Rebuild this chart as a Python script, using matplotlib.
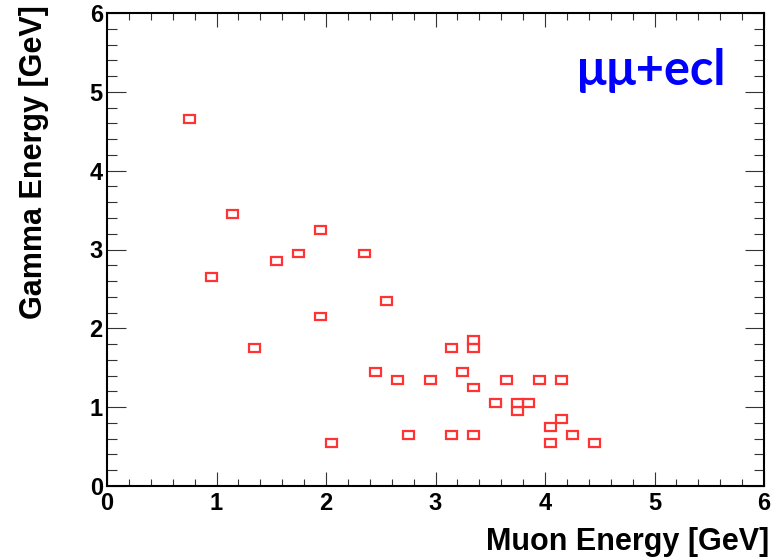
import matplotlib.pyplot as plt
from matplotlib.patches import Rectangle
from matplotlib.ticker import MultipleLocator

plt.rcParams['font.family'] = 'Liberation Sans'
plt.rcParams['font.weight'] = 'bold'

# bin centres of the filled cells (bin size 0.1 x 0.1 GeV)
muon_e = [0.75, 1.15, 0.95, 1.95, 1.75, 1.55, 2.35, 2.55, 1.95, 1.35,
          2.05, 2.45, 2.65, 2.95, 2.75, 3.15, 3.35, 3.35, 3.25, 3.35,
          3.15, 3.35, 3.55, 3.65, 3.75, 3.85, 3.75, 3.95, 4.15, 4.15,
          4.05, 4.05, 4.25, 4.45]
gamma_e = [4.65, 3.45, 2.65, 3.25, 2.95, 2.85, 2.95, 2.35, 2.15, 1.75,
           0.55, 1.45, 1.35, 1.35, 0.65, 1.75, 1.85, 1.75, 1.45, 1.25,
           0.65, 0.65, 1.05, 1.35, 1.05, 1.05, 0.95, 1.35, 1.35, 0.85,
           0.75, 0.55, 0.65, 0.55]
bin_w = 0.1

W, H = 779, 559
fig = plt.figure(figsize=(W / 100, H / 100), dpi=100)
ax = fig.add_axes([107 / W, 73 / H, 657 / W, 473 / H])

for x, y in zip(muon_e, gamma_e):
    ax.add_patch(Rectangle((x - bin_w / 2, y - bin_w / 2), bin_w, bin_w,
                           fill=False, edgecolor='#ff3333', linewidth=1.6))

ax.set_xlim(0, 6)
ax.set_ylim(0, 6)
ax.xaxis.set_major_locator(MultipleLocator(1))
ax.xaxis.set_minor_locator(MultipleLocator(0.2))
ax.yaxis.set_major_locator(MultipleLocator(1))
ax.yaxis.set_minor_locator(MultipleLocator(0.2))

for s in ax.spines.values():
    s.set_linewidth(1.5)

ax.tick_params(which='both', direction='in', top=True, right=True,
               width=0.8, color='#333333', labelsize=17)
ax.tick_params(axis='x', which='major', length=10, pad=4)
ax.tick_params(axis='x', which='minor', length=5)
ax.tick_params(axis='y', which='major', length=14, pad=3)
ax.tick_params(axis='y', which='minor', length=7)

fig.text(769 / W, 1 - 542 / H, 'Muon Energy [GeV]', ha='right', va='center',
         fontsize=22, fontweight='bold')
fig.text(34 / W, 1 - 5 / H, 'Gamma Energy [GeV]', ha='center', va='top',
         rotation=90, fontsize=22, fontweight='bold')

fig.text(577 / W, 1 - 85 / H, 'μμ+ecl', ha='left', va='baseline',
         fontsize=35, fontweight='bold', color='blue', family='Lato')

fig.savefig('out.png', dpi=100)
